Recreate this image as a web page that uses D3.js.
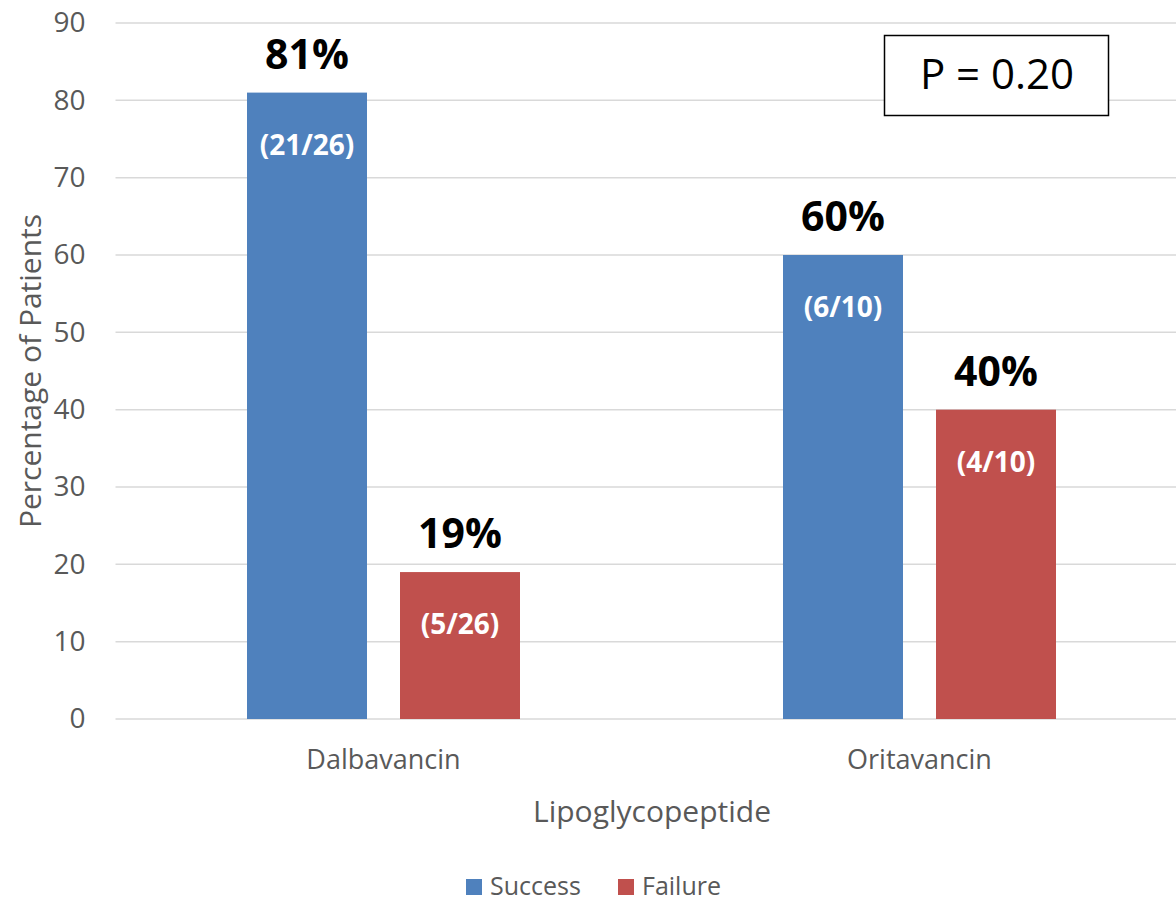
<!DOCTYPE html>
<html>
<head>
<meta charset="utf-8">
<script src="https://cdn.jsdelivr.net/npm/d3@7"></script>
<style>
  html, body { margin: 0; padding: 0; background: #fff; }
  svg { display: block; font-family: "Open Sans", "Noto Sans", sans-serif; }
</style>
</head>
<body>
<svg id="chart" width="1176" height="903"></svg>
<script>
// Treatment outcome by lipoglycopeptide
const categories = ["Dalbavancin", "Oritavancin"];
const seriesNames = ["Success", "Failure"];
const successValues = [81, 60];
const failureValues = [19, 40];
const successCounts = ["(21/26)", "(6/10)"];
const failureCounts = ["(5/26)", "(4/10)"];
const yTicks = [0, 10, 20, 30, 40, 50, 60, 70, 80, 90];
const pValueText = "P = 0.20";

const colors = { Success: "#4F81BD", Failure: "#C0504D" };
const textGrey = "#595959";

const svg = d3.select("#chart");

const plot = { left: 115.5, right: 1187.5, top: 23, bottom: 719 };

const x = d3.scaleBand()
  .domain(categories)
  .range([plot.left, plot.right])
  .paddingInner(0)
  .paddingOuter(0);

// Two bars per category with a narrow gap between them
const xSeries = d3.scaleBand()
  .domain(seriesNames)
  .range([131.5, 404.5])
  .paddingInner(33 / 153)
  .paddingOuter(0);

const y = d3.scaleLinear().domain([0, 90]).range([plot.bottom, plot.top]);

// Gridlines
svg.append("g")
  .selectAll("line")
  .data(yTicks)
  .join("line")
  .attr("x1", plot.left)
  .attr("x2", 1176)
  .attr("y1", d => y(d))
  .attr("y2", d => y(d))
  .attr("stroke", "#d9d9d9")
  .attr("stroke-width", 1.5);

// Y axis labels
const yAxis = svg.append("g")
  .attr("transform", `translate(${plot.left - 30},0)`)
  .call(d3.axisLeft(y).tickValues(yTicks).tickSize(0).tickPadding(0));
yAxis.select(".domain").remove();
yAxis.selectAll("text")
  .attr("font-size", 28)
  .attr("fill", textGrey)
  .attr("font-family", "'Open Sans', sans-serif");

// X axis labels
const xAxis = svg.append("g")
  .attr("transform", `translate(0,${plot.bottom})`)
  .call(d3.axisBottom(x).tickSize(0).tickPadding(0));
xAxis.select(".domain").remove();
xAxis.selectAll("text")
  .attr("y", 50)
  .attr("dy", 0)
  .attr("font-size", 27)
  .attr("fill", textGrey)
  .attr("font-family", "'Open Sans', sans-serif");

// Bars
const rows = categories.map((c, i) => ([
  { cat: c, series: "Success", value: successValues[i], count: successCounts[i] },
  { cat: c, series: "Failure", value: failureValues[i], count: failureCounts[i] }
])).flat();

const barX = d => x(d.cat) + xSeries(d.series);

svg.append("g")
  .selectAll("rect")
  .data(rows)
  .join("rect")
  .attr("x", barX)
  .attr("width", xSeries.bandwidth())
  .attr("y", d => y(d.value))
  .attr("height", d => y(0) - y(d.value))
  .attr("fill", d => colors[d.series]);

// Percent labels above bars
svg.append("g")
  .selectAll("text")
  .data(rows)
  .join("text")
  .attr("x", d => barX(d) + xSeries.bandwidth() / 2)
  .attr("y", d => y(d.value) - 24)
  .attr("text-anchor", "middle")
  .attr("font-size", 41)
  .attr("font-weight", "bold")
  .attr("fill", "#000")
  .text(d => d.value + "%");

// Count labels inside bars
svg.append("g")
  .selectAll("text")
  .data(rows)
  .join("text")
  .attr("x", d => barX(d) + xSeries.bandwidth() / 2)
  .attr("y", d => y(d.value) + 62)
  .attr("text-anchor", "middle")
  .attr("font-size", 28)
  .attr("font-weight", "bold")
  .attr("fill", "#fff")
  .text(d => d.count);

// Axis titles
svg.append("text")
  .attr("x", 652)
  .attr("y", 822)
  .attr("text-anchor", "middle")
  .attr("font-size", 30)
  .attr("fill", textGrey)
  .text("Lipoglycopeptide");

svg.append("text")
  .attr("transform", "translate(41,371) rotate(-90)")
  .attr("text-anchor", "middle")
  .attr("font-size", 30)
  .attr("fill", textGrey)
  .text("Percentage of Patients");

// P-value box
svg.append("rect")
  .attr("x", 884.5)
  .attr("y", 35.5)
  .attr("width", 224)
  .attr("height", 80)
  .attr("fill", "#fff")
  .attr("stroke", "#000")
  .attr("stroke-width", 1.5);
svg.append("text")
  .attr("x", 997)
  .attr("y", 89)
  .attr("text-anchor", "middle")
  .attr("font-size", 42)
  .attr("fill", "#000")
  .text(pValueText);

// Legend
const legendItems = [
  { name: "Success", x: 466 },
  { name: "Failure", x: 618 }
];
const legend = svg.append("g");
legend.selectAll("rect")
  .data(legendItems)
  .join("rect")
  .attr("x", d => d.x)
  .attr("y", 879)
  .attr("width", 16)
  .attr("height", 16)
  .attr("fill", d => colors[d.name]);
legend.selectAll("text")
  .data(legendItems)
  .join("text")
  .attr("x", d => d.x + 24)
  .attr("y", 895)
  .attr("font-size", 25)
  .attr("fill", textGrey)
  .text(d => d.name);
</script>
</body>
</html>
